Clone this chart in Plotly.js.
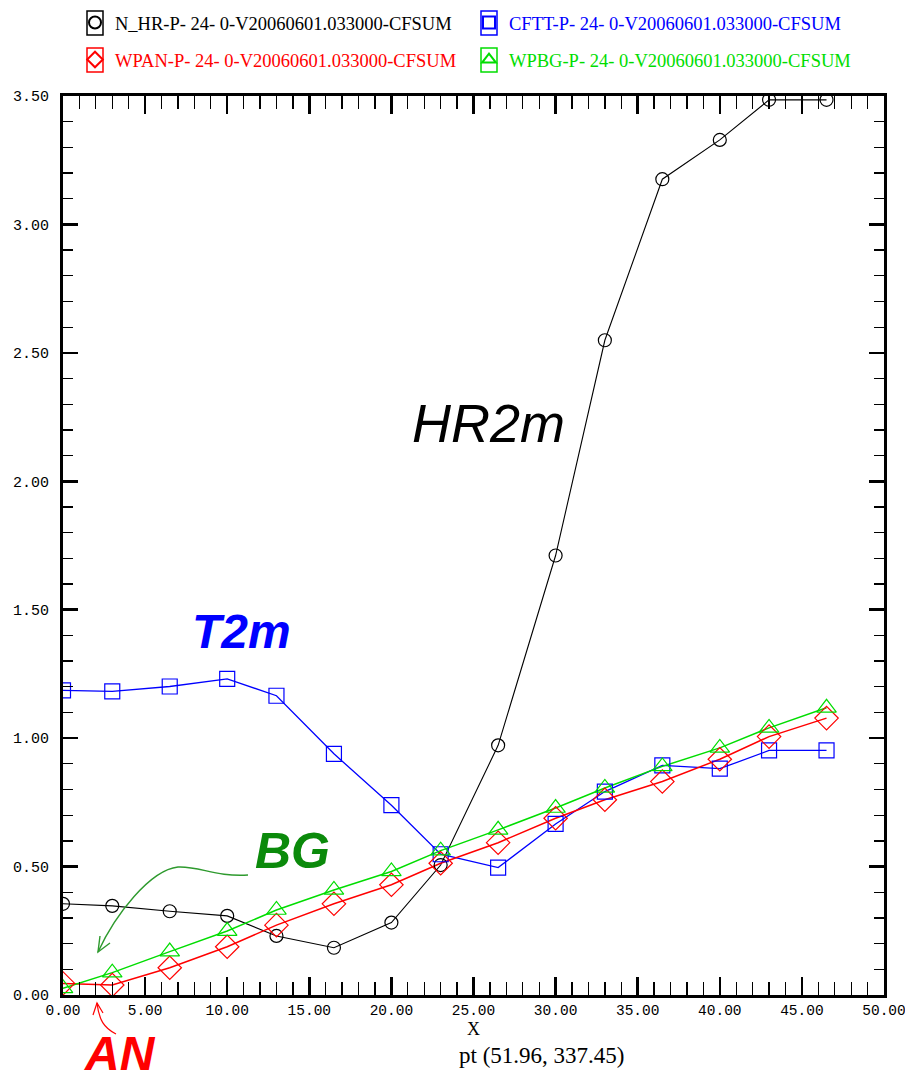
<!DOCTYPE html>
<html>
<head>
<meta charset="utf-8">
<script src="https://cdn.plot.ly/plotly-3.0.1.min.js"></script>
<style>html,body{margin:0;padding:0;background:#fff;}#chart{width:905px;height:1081px;}</style>
</head>
<body>
<div id="chart"></div>
<script>
// ---- data ----
const xValues = [0, 3, 6.5, 10, 13, 16.5, 20, 23, 26.5, 30, 33, 36.5, 40, 43, 46.5];
const hrValues = [0.355, 0.347, 0.326, 0.308, 0.230, 0.184, 0.282, 0.506, 0.972, 1.711, 2.549, 3.176, 3.329, 3.485, 3.485];
const t2mValues = [1.186, 1.182, 1.201, 1.231, 1.165, 0.939, 0.739, 0.548, 0.496, 0.666, 0.792, 0.894, 0.881, 0.952, 0.952];
const anValues = [0.045, 0.039, 0.106, 0.188, 0.272, 0.355, 0.429, 0.513, 0.593, 0.688, 0.760, 0.831, 0.918, 1.006, 1.078];
const bgValues = [0.026, 0.087, 0.169, 0.249, 0.331, 0.409, 0.481, 0.562, 0.643, 0.728, 0.806, 0.890, 0.962, 1.040, 1.118];
const seriesNames = [
  'N_HR-P- 24- 0-V20060601.033000-CFSUM',
  'CFTT-P- 24- 0-V20060601.033000-CFSUM',
  'WPAN-P- 24- 0-V20060601.033000-CFSUM',
  'WPBG-P- 24- 0-V20060601.033000-CFSUM'
];
const xTickVals = [0, 5, 10, 15, 20, 25, 30, 35, 40, 45, 50];
const yTickVals = [0, 0.5, 1, 1.5, 2, 2.5, 3, 3.5];

// ---- geometry helpers (pixel -> paper) ----
const W = 905, H = 1081;
const M = {l: 63, r: 21, t: 96, b: 86, autoexpand: false};
const PW = W - M.l - M.r, PH = H - M.t - M.b;
const px = v => (v - M.l) / PW;
const py = v => (H - M.b - v) / PH;

const series = [
  {y: hrValues, color: '#000000', symbol: 'circle-open', size: 13, legend: 'legend', lw: 1.1, lx: 75, ly: 23},
  {y: t2mValues, color: '#0000ff', symbol: 'square-open', size: 15, legend: 'legend2', lw: 1.3, lx: 469, ly: 23},
  {y: anValues, color: '#ff0000', symbol: 'diamond-open', size: 18, legend: 'legend3', lw: 1.5, lx: 75, ly: 60},
  {y: bgValues, color: '#00dd00', symbol: 'triangle-up-open', size: 17, legend: 'legend4', lw: 1.5, lx: 469, ly: 60}
];

const traces = [];
series.forEach((s) => {
  traces.push({
    x: xValues, y: s.y, mode: 'lines', type: 'scatter', showlegend: false,
    line: {color: s.color, width: s.lw}, hoverinfo: 'skip'
  });
});
series.forEach((s, i) => {
  traces.push({
    x: xValues, y: s.y, mode: 'markers', type: 'scatter', name: seriesNames[i],
    legend: s.legend,
    marker: {symbol: s.symbol, size: s.size, color: s.color, line: {color: s.color, width: 1.2}}
  });
});

function box(x0, y0, x1, y1, color) {
  return {type: 'rect', xref: 'paper', yref: 'paper', x0: px(x0), x1: px(x1), y0: py(y1), y1: py(y0),
    line: {color: color, width: 1.5}, fillcolor: 'rgba(0,0,0,0)', layer: 'above'};
}

const greenDark = '#0b8a0b';
const shapes = [
  // green hand-drawn arrow toward BG
  {type: 'path', xref: 'paper', yref: 'paper',
   path: 'M ' + px(248) + ',' + py(875) + ' C ' + px(215) + ',' + py(877) + ' ' + px(200) + ',' + py(866) + ' ' + px(178) + ',' + py(867) +
         ' C ' + px(150) + ',' + py(870) + ' ' + px(115) + ',' + py(915) + ' ' + px(98) + ',' + py(952),
   line: {color: '#2e9a2e', width: 1.4}},
  {type: 'path', xref: 'paper', yref: 'paper',
   path: 'M ' + px(100) + ',' + py(936) + ' L ' + px(98) + ',' + py(952) + ' L ' + px(110) + ',' + py(943),
   line: {color: '#2e9a2e', width: 1.4}},
  // red hand-drawn arrow toward AN
  {type: 'path', xref: 'paper', yref: 'paper',
   path: 'M ' + px(116) + ',' + py(1034) + ' C ' + px(104) + ',' + py(1028) + ' ' + px(99) + ',' + py(1020) + ' ' + px(97) + ',' + py(1003),
   line: {color: '#ff0000', width: 1.2}},
  {type: 'path', xref: 'paper', yref: 'paper',
   path: 'M ' + px(93) + ',' + py(1015) + ' L ' + px(97) + ',' + py(1003) + ' L ' + px(103) + ',' + py(1013),
   line: {color: '#ff0000', width: 1.2}}
];

const handFont = 'Liberation Sans, Arial, sans-serif';
const annotations = [
  {text: 'HR2m', x: 25.9, y: 2.225, xref: 'x', yref: 'y', showarrow: false, xanchor: 'center', yanchor: 'middle',
   font: {family: handFont, size: 54, color: '#000000', style: 'italic'}},
  {text: 'T2m', x: 10.9, y: 1.415, xref: 'x', yref: 'y', showarrow: false, xanchor: 'center', yanchor: 'middle',
   font: {family: handFont, size: 48, color: '#0000ff', style: 'italic', weight: 'bold'}},
  {text: 'BG', x: px(292), y: py(851), xref: 'paper', yref: 'paper', showarrow: false, xanchor: 'center', yanchor: 'middle',
   font: {family: handFont, size: 50, color: greenDark, style: 'italic', weight: 'bold'}},
  {text: 'AN', x: px(120), y: py(1053), xref: 'paper', yref: 'paper', showarrow: false, xanchor: 'center', yanchor: 'middle',
   font: {family: handFont, size: 48, color: '#ff0000', style: 'italic', weight: 'bold'}},
  {text: 'pt (51.96, 337.45)', x: px(541), y: py(1055), xref: 'paper', yref: 'paper', showarrow: false, xanchor: 'center', yanchor: 'middle',
   font: {family: 'Liberation Serif, Times New Roman, serif', size: 23, color: '#000000'}}
];

const yTickFont = {family: 'Liberation Mono, DejaVu Sans Mono, monospace', size: 15, color: '#000000'};
const xTickFont = {family: 'Liberation Mono, DejaVu Sans Mono, monospace', size: 14.5, color: '#000000'};

const layout = {
  width: W, height: H,
  margin: M,
  paper_bgcolor: '#ffffff', plot_bgcolor: '#ffffff',
  showlegend: true,
  xaxis: {
    range: [0, 50], tickvals: xTickVals, tickformat: '.2f', ticklabeloverflow: 'allow',
    ticks: 'inside', ticklen: 18, tickwidth: 2.5, tickcolor: '#000',
    minor: {dtick: 1, ticks: 'inside', ticklen: 13, tickwidth: 1.3, tickcolor: '#000', showgrid: false},
    showline: true, linewidth: 3, linecolor: '#000', mirror: 'ticks',
    showgrid: false, zeroline: false, tickfont: xTickFont, automargin: false,
    title: {text: 'X', standoff: 1, font: {family: 'Liberation Serif, Times New Roman, serif', size: 18, color: '#000'}}
  },
  yaxis: {
    range: [0, 3.5], tickvals: yTickVals, tickformat: '.2f', ticklabeloverflow: 'allow',
    ticks: 'inside', ticklen: 15, tickwidth: 2.5, tickcolor: '#000',
    minor: {dtick: 0.1, ticks: 'inside', ticklen: 10, tickwidth: 1.3, tickcolor: '#000', showgrid: false},
    showline: true, linewidth: 3, linecolor: '#000', mirror: 'ticks',
    showgrid: false, zeroline: false, tickfont: yTickFont, automargin: false,
    ticklabelstandoff: 8
  },
  shapes: shapes,
  annotations: annotations
};

series.forEach((s) => {
  layout[s.legend] = {
    x: px(s.lx), y: py(s.ly), xanchor: 'left', yanchor: 'middle',
    orientation: 'h', itemwidth: 30, itemsizing: 'constant',
    bgcolor: 'rgba(0,0,0,0)', borderwidth: 0,
    font: {family: 'Liberation Serif, Times New Roman, serif', size: 18.5, color: s.color}
  };
  shapes.push(box(s.lx + 12, s.ly - 12, s.lx + 28, s.ly + 12, s.color));
});

Plotly.newPlot('chart', traces, layout, {displayModeBar: false, staticPlot: true});
</script>
</body>
</html>
